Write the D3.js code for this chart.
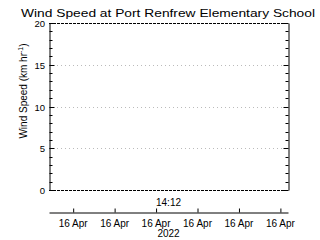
<!DOCTYPE html>
<html>
<head>
<meta charset="utf-8">
<script src="https://cdn.jsdelivr.net/npm/d3@7"></script>
<style>
  body { margin: 0; background: #fff; }
  text { font-family: "Liberation Sans", "DejaVu Sans", sans-serif; fill: #000; }
</style>
</head>
<body>
<svg id="chart"></svg>
<script>
// chart data
const title = "Wind Speed at Port Renfrew Elementary School";
const yLabel = "Wind Speed (km hr";
const yTicks = [0, 5, 10, 15, 20];
const yDomain = [0, 20];
// time ticks along the bottom axis (all on 16 Apr 2022, one minute apart)
const xTickTimes = ["2022-04-16T14:10", "2022-04-16T14:11", "2022-04-16T14:12",
                    "2022-04-16T14:13", "2022-04-16T14:14", "2022-04-16T14:15"];
const xTickLabels = ["16 Apr", "16 Apr", "16 Apr", "16 Apr", "16 Apr", "16 Apr"];
const xDomain = ["2022-04-16T14:09:25", "2022-04-16T14:15:11"];
const timeLabel = "14:12";
const yearLabel = "2022";
// no wind speed readings in the window
const windSpeed = [];

const width = 320, height = 240;
const margin = {top: 23, right: 32, bottom: 50, left: 49};

const svg = d3.select("#chart")
    .attr("width", width)
    .attr("height", height);

const x = d3.scaleTime()
    .domain(xDomain.map(d => new Date(d)))
    .range([margin.left, width - margin.right]);

const y = d3.scaleLinear()
    .domain(yDomain)
    .range([height - margin.bottom, margin.top]);

// grid lines
svg.append("g")
    .selectAll("line")
    .data(yTicks.slice(1, -1))
    .join("line")
    .attr("x1", margin.left).attr("x2", width - margin.right)
    .attr("y1", d => Math.round(y(d)) + 0.5).attr("y2", d => Math.round(y(d)) + 0.5)
    .attr("stroke", "#bbb")
    .attr("stroke-dasharray", "1,3");

// left and right axes, ticks point inward
const leftAxis = d3.axisLeft(y).tickValues(d3.range(0, 21, 1))
    .tickSizeInner(-3).tickSizeOuter(0).tickFormat("");
const rightAxis = d3.axisRight(y).tickValues(d3.range(0, 21, 1))
    .tickSizeInner(-3).tickSizeOuter(0).tickFormat("");

const gl = svg.append("g")
    .attr("transform", `translate(${margin.left + 0.5},0)`)
    .call(leftAxis);
const gr = svg.append("g")
    .attr("transform", `translate(${width - margin.right + 0.5},0)`)
    .call(rightAxis);

[gl, gr].forEach(g => {
  g.select(".domain").attr("stroke", "#000").attr("stroke-width", 1);
  g.selectAll(".tick line")
    .attr("stroke", "#000")
    .attr("x2", d => (yTicks.includes(d) ? 5 : 3) * (g === gl ? 1 : -1));
  g.selectAll(".tick").attr("transform", d => `translate(0,${Math.round(y(d)) + 0.5})`);
});

// y tick labels
svg.append("g")
    .selectAll("text")
    .data(yTicks)
    .join("text")
    .attr("x", margin.left - 4)
    .attr("y", d => y(d) + 4)
    .attr("text-anchor", "end")
    .attr("font-size", 9.5)
    .text(d => d);

// dashed top and bottom frame
svg.append("g")
    .selectAll("line")
    .data(yDomain)
    .join("line")
    .attr("x1", margin.left).attr("x2", width - margin.right)
    .attr("y1", d => Math.round(y(d)) + 0.5).attr("y2", d => Math.round(y(d)) + 0.5)
    .attr("stroke", "#000")
    .attr("stroke-dasharray", "3,1");

// wind speed line (empty)
svg.append("path")
    .datum(windSpeed)
    .attr("fill", "none")
    .attr("stroke", "#000")
    .attr("d", d3.line().x(d => x(new Date(d.t))).y(d => y(d.v)));

// separate time axis below the plot
const axisY = 212.5;
const xAxis = d3.axisTop(x)
    .tickValues(xTickTimes.map(d => new Date(d)))
    .tickSizeInner(4).tickSizeOuter(0).tickFormat("");
const gx = svg.append("g")
    .attr("transform", `translate(0,${axisY})`)
    .call(xAxis);
gx.select(".domain").attr("stroke", "#000");
gx.selectAll(".tick line").attr("stroke", "#000");

svg.append("g")
    .selectAll("text")
    .data(xTickTimes)
    .join("text")
    .attr("x", d => x(new Date(d)))
    .attr("y", 227)
    .attr("text-anchor", "middle")
    .attr("font-size", 10)
    .text((d, i) => xTickLabels[i]);

svg.append("text")
    .attr("x", (margin.left + width - margin.right) / 2)
    .attr("y", 237)
    .attr("text-anchor", "middle")
    .attr("font-size", 10)
    .text(yearLabel);

svg.append("text")
    .attr("x", (margin.left + width - margin.right) / 2)
    .attr("y", 205.5)
    .attr("text-anchor", "middle")
    .attr("font-size", 10)
    .text(timeLabel);

// title
svg.append("text")
    .attr("x", 168)
    .attr("y", 16.5)
    .attr("text-anchor", "middle")
    .attr("font-size", 11.5)
    .attr("textLength", 294)
    .attr("lengthAdjust", "spacingAndGlyphs")
    .text(title);

// y axis label
const yl = svg.append("text")
    .attr("transform", `translate(27,91) rotate(-90)`)
    .attr("text-anchor", "middle")
    .attr("font-size", 10);
yl.append("tspan").text(yLabel);
yl.append("tspan").attr("dy", -4).attr("font-size", 7).text("-1");
yl.append("tspan").attr("dy", 4).text(")");
</script>
</body>
</html>
